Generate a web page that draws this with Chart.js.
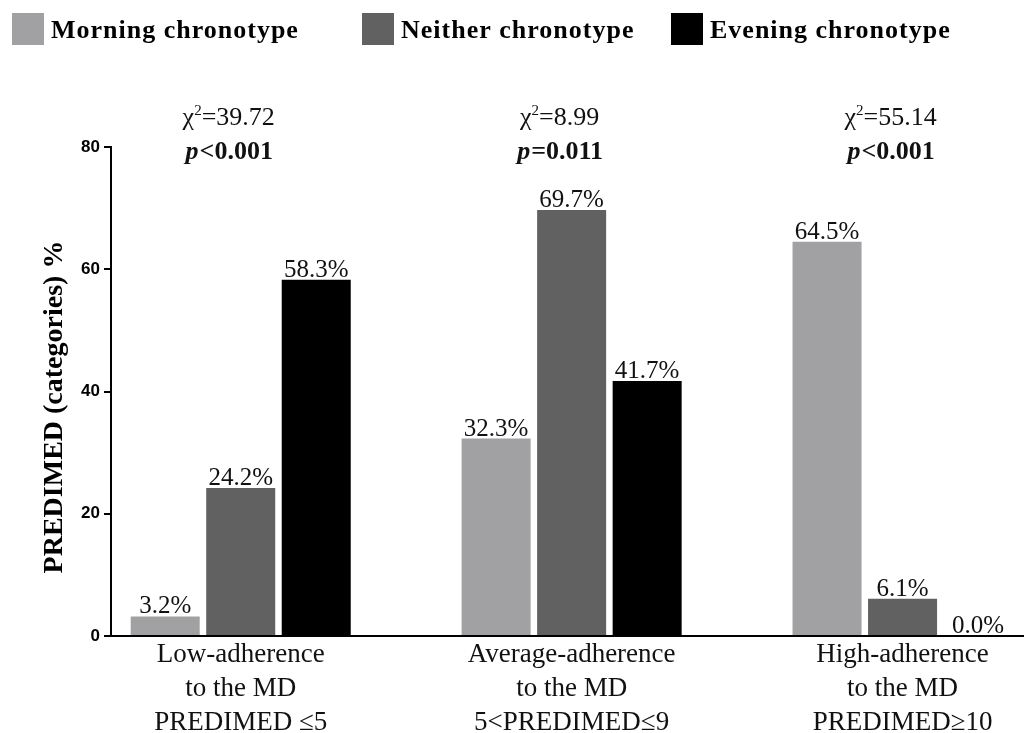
<!DOCTYPE html>
<html><head><meta charset="utf-8">
<script src="https://cdn.jsdelivr.net/npm/chart.js@4"></script>
<style>html,body{margin:0;padding:0;background:#fff}#wrap{width:1024px;height:733px}</style>
</head><body><div id="wrap"><canvas id="c" width="1024" height="733"></canvas></div>
<script>
const categories = [["Low-adherence","to the MD","PREDIMED ≤5"],["Average-adherence","to the MD","5<PREDIMED≤9"],["High-adherence","to the MD","PREDIMED≥10"]];
const seriesNames = ["Morning chronotype","Neither chronotype","Evening chronotype"];
const morning = [3.2, 32.3, 64.5];
const neither = [24.2, 69.7, 6.1];
const evening = [58.3, 41.7, 0.0];
const chiSquare = ["39.72","8.99","55.14"];
const pValues = ["<0.001","=0.011","<0.001"];
const yTicks = [0,20,40,60,80];
const yTitle = "PREDIMED (categories) %";
const colors = ['#a1a1a4','#616161','#000000'];

const SERIF = '"Liberation Serif", "DejaVu Serif", serif';
const series = [morning, neither, evening];

const overlay = {
  id: 'overlay',
  afterDatasetsDraw(chart) {
    const ctx = chart.ctx;
    ctx.save();
    ctx.fillStyle = '#111';
    ctx.textAlign = 'center';
    ctx.textBaseline = 'alphabetic';
    ctx.font = '25px ' + SERIF;
    chart.data.datasets.forEach((ds, di) => {
      const meta = chart.getDatasetMeta(di);
      meta.data.forEach((bar, i) => {
        ctx.fillText(ds.data[i].y.toFixed(1) + '%', bar.x, bar.y - 3);
      });
    });
    const xs = chart.scales.x;
    ctx.textAlign = 'left';
    chiSquare.forEach((chi, i) => {
      const cx = xs.getPixelForValue(i) - 12;
      ctx.font = '26px ' + SERIF;
      const wChi = ctx.measureText('χ').width;
      const wRest = ctx.measureText('=' + chi).width;
      ctx.font = '15px ' + SERIF;
      const wSup = ctx.measureText('2').width;
      let x = cx - (wChi + wSup + wRest) / 2;
      ctx.font = '26px ' + SERIF;
      ctx.fillText('χ', x, 125); x += wChi;
      ctx.font = '15px ' + SERIF;
      ctx.fillText('2', x, 115); x += wSup;
      ctx.font = '26px ' + SERIF;
      ctx.fillText('=' + chi, x, 125);
      ctx.font = 'italic bold 26px ' + SERIF;
      const wp = ctx.measureText('p').width;
      ctx.font = 'bold 26px ' + SERIF;
      const wv = ctx.measureText(pValues[i]).width;
      x = cx - (wp + wv) / 2;
      ctx.font = 'italic bold 26px ' + SERIF;
      ctx.fillText('p', x, 159);
      ctx.font = 'bold 26px ' + SERIF;
      ctx.fillText(pValues[i], x + wp + 1, 159);
    });
    const legX = [12, 362, 671];
    chart.data.datasets.forEach((ds, di) => {
      ctx.fillStyle = ds.backgroundColor;
      ctx.fillRect(legX[di], 13, 32, 32);
      ctx.fillStyle = '#000';
      ctx.font = 'bold 26px ' + SERIF;
      ctx.letterSpacing = '1px';
      ctx.fillText(ds.label, legX[di] + 39, 38);
      ctx.letterSpacing = '0px';
    });
    // y-axis title
    ctx.translate(62, 407);
    ctx.rotate(-Math.PI / 2);
    ctx.textAlign = 'center';
    ctx.fillStyle = '#000';
    ctx.font = 'bold 28px ' + SERIF;
    ctx.fillText(yTitle, 0, 0);
    ctx.restore();
  }
};

new Chart(document.getElementById('c'), {
  type: 'bar',
  data: {
    datasets: series.map((vals, di) => ({
      label: seriesNames[di],
      data: vals.map((v, i) => ({ x: i, y: v })),
      backgroundColor: colors[di],
      borderWidth: 0,
      categoryPercentage: 0.6846,
      barPercentage: 0.914
    }))
  },
  options: {
    responsive: false,
    animation: false,
    layout: { padding: { top: 147, right: 0, bottom: 0, left: 0 } },
    plugins: { legend: { display: false }, tooltip: { enabled: false } },
    scales: {
      x: {
        type: 'linear',
        offset: false,
        min: -0.392,
        max: 2.367,
        afterBuildTicks: (s) => { s.ticks = categories.map((_, i) => ({ value: i })); },
        afterFit: (s) => { s.height = 97; },
        grid: { display: false, drawTicks: false },
        border: { display: true, color: '#000', width: 2 },
        ticks: {
          autoSkip: false,
          maxRotation: 0,
          padding: 2,
          color: '#111',
          font: { family: SERIF, size: 27, lineHeight: '34px' },
          callback: (v) => categories[v]
        }
      },
      y: {
        min: 0,
        max: 80,
        afterBuildTicks: (s) => { s.ticks = yTicks.map(v => ({ value: v })); },
        afterFit: (s) => { s.width = 111; },
        grid: { display: true, drawOnChartArea: false, drawTicks: true, tickLength: 7, color: '#000', lineWidth: 2 },
        border: { display: true, color: '#000', width: 2 },
        ticks: {
          padding: 4,
          color: '#000',
          font: { family: '"Liberation Sans", Arial, sans-serif', size: 17, weight: 'bold' }
        }
      }
    }
  },
  plugins: [overlay]
});
</script>
</body></html>
